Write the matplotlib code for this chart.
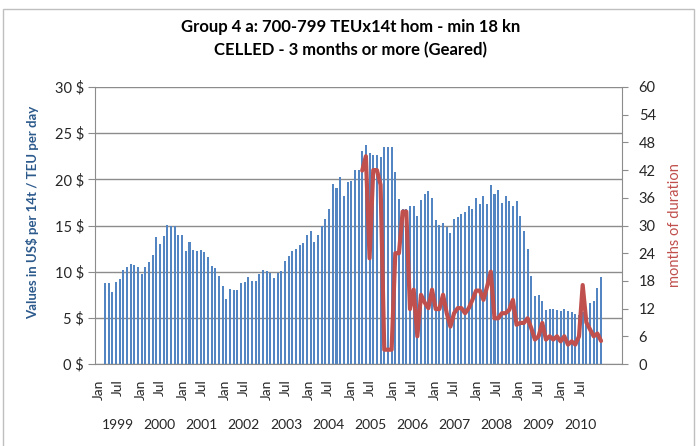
import numpy as np
import matplotlib.pyplot as plt
from matplotlib.patches import Rectangle
from matplotlib.transforms import blended_transform_factory

plt.rcParams['font.family'] = ['Lato', 'DejaVu Sans']

# monthly rate, US$ per 14t / TEU per day (bars)
rate = [8.77, 8.77, 7.76, 8.88, 9.24, 10.14, 10.5, 10.87, 10.76, 10.5,
        9.78, 10.54, 11.0, 11.8, 13.8, 12.96, 13.9, 15.1, 14.9, 14.9,
        14.0, 14.0, 12.2, 13.25, 12.4, 12.24, 12.4, 12.17, 11.55, 10.58,
        10.4, 9.57, 8.48, 7.0, 8.16, 8.05, 8.05, 8.8, 8.9, 9.4,
        8.95, 9.0, 9.78, 10.2, 10.1,
        9.86, 9.3, 9.9, 10.1, 11.2, 11.7, 12.2, 12.5, 12.9, 13.1,
        14.0, 14.4, 13.2, 14.0, 15.0, 15.7, 16.8, 19.5, 19.1, 20.3,
        18.2, 19.7, 19.8, 21.0, 21.0, 23.1, 23.7, 22.9, 22.6, 22.6,
        22.4, 23.5, 23.5, 23.5, 20.8, 17.9, 16.8, 16.8, 17.1, 17.1,
        16.0, 17.8, 18.4, 18.7,
        18.0, 15.6, 15.1, 15.3, 14.8, 14.2, 15.7, 15.9, 16.2, 16.5,
        17.1, 16.8, 18.0, 17.3, 18.2, 17.3, 19.4, 18.4, 18.8, 17.4,
        18.2, 17.6, 17.1, 17.6, 16.0, 14.4, 12.5, 9.57, 7.36, 7.5,
        6.86, 5.85, 5.96, 5.96, 5.88, 5.7, 5.96, 5.78, 5.63, 5.4,
        5.3, 5.6, 6.2, 6.57, 6.8, 8.2, 9.46]

# months of duration (line), starts at bar 70
duration_start = 70
duration = [41.9, 45.0, 22.9, 42.0, 42.0, 38.8, 3.1, 3.1, 3.1, 24.0,
            24.0, 33.0, 33.0, 11.9, 16.1, 6.0, 15.0, 13.3, 12.1, 16.1,
            11.9, 11.9, 15.0, 11.0, 8.1, 11.0, 12.1, 12.1, 11.0, 12.1,
            13.9, 15.9, 15.9, 13.9, 16.8, 20.0, 9.9, 9.9, 11.0, 11.0,
            11.7, 13.9, 8.5, 8.9, 8.9, 9.9, 7.8, 5.3, 6.0, 8.9,
            5.3, 6.0, 5.3, 6.0, 4.9, 6.0, 4.2, 4.9, 4.2, 6.0,
            17.1, 9.0, 7.5, 6.0, 6.6, 5.0]

years = ['1999', '2000', '2001', '2002', '2003', '2004',
         '2005', '2006', '2007', '2008', '2009', '2010']
left_ticks = [0, 5, 10, 15, 20, 25, 30]
right_ticks = list(range(0, 61, 6))

blue = '#5285C2'
red = '#C0504D'
grid_c = '#8C8C8C'
text_c = '#262626'

W, H = 698, 446
fig = plt.figure(figsize=(W / 100, H / 100), dpi=100)
ax = fig.add_axes([95 / W, 82 / H, 527 / W, 277 / H])

x = np.arange(len(rate))
ax.bar(x, rate, width=0.55, color=blue, zorder=2)
ax.set_xlim(-2.72, 140.7)
ax.set_ylim(0, 30)
ax.set_yticks(left_ticks)
ax.set_yticklabels(['%d $' % v for v in left_ticks], fontsize=10.5, color=text_c)
ax.yaxis.grid(True, color=grid_c, linewidth=1, zorder=0)
ax.set_axisbelow(True)
ax.set_xticks([])
for s in ['top', 'right']:
    ax.spines[s].set_visible(False)
for s in ['left', 'bottom']:
    ax.spines[s].set_color(grid_c)
ax.tick_params(axis='y', length=5, color=grid_c, pad=3)

ax2 = ax.twinx()
xd = np.arange(duration_start, duration_start + len(duration))
ax2.plot(xd, duration, color=red, linewidth=3.0, solid_joinstyle='round',
         solid_capstyle='round', zorder=3)
ax2.set_ylim(0, 60)
ax2.set_yticks(right_ticks)
ax2.set_yticklabels([str(v) for v in right_ticks], fontsize=10.5, color=text_c)
ax2.tick_params(axis='y', length=4, color=grid_c, pad=8)
for s in ['top', 'left', 'bottom']:
    ax2.spines[s].set_visible(False)
ax2.spines['right'].set_color(grid_c)

# category labels: Jan / Jul rotated, years below
trans = blended_transform_factory(ax.transData, ax.transAxes)
label_x0 = -1.8
year_step = 11.45
jul_shift = 5.25
for k, yr in enumerate(years):
    xj = label_x0 + k * year_step
    ax.text(xj, -0.055, 'Jan', rotation=90, ha='center', va='top',
            fontsize=10, color=text_c, transform=trans)
    ax.text(xj + jul_shift, -0.055, 'Jul', rotation=90, ha='center', va='top',
            fontsize=10, color=text_c, transform=trans)
    ax.text(xj + jul_shift, -0.22, yr, ha='center', va='center',
            fontsize=10, color=text_c, transform=trans)

fig.text(351 / W, 1 - 32 / H, 'Group 4 a: 700-799 TEUx14t hom - min 18 kn',
         ha='center', va='baseline', fontsize=12, fontweight='bold', color='black')
fig.text(351 / W, 1 - 55 / H, 'CELLED - 3 months or more (Geared)',
         ha='center', va='baseline', fontsize=12, fontweight='bold', color='black')

fig.text(33 / W, 1 - 212 / H, 'Values in US$ per 14t / TEU per day', rotation=90,
         ha='center', va='center', fontsize=9.5, fontweight='bold', color='#2C5A8C')
fig.text(675 / W, 1 - 225 / H, 'months of duration', rotation=90,
         ha='center', va='center', fontsize=10.5, color=red)

fig.patches.append(Rectangle((3 / W, -0.02), 691 / W, 1.02 - 9 / H, transform=fig.transFigure,
                             fill=False, edgecolor='#BFBFBF', linewidth=1))

plt.savefig('out.png', dpi=100)
